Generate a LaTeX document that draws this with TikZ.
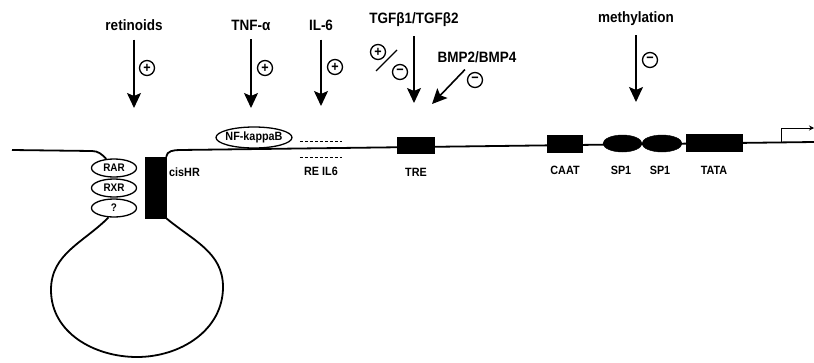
\documentclass[tikz,border=0pt]{standalone}
\usepackage{fontspec}
\setmainfont[FakeStretch=0.9]{Liberation Sans}
\usetikzlibrary{positioning,calc,arrows.meta,shapes.geometric}
\tikzset{
  dna/.style={line width=1.8pt},
  box/.style={rectangle,draw,fill=black,minimum height=16pt,inner sep=0},
  bead/.style={ellipse,draw,fill=black,minimum width=40pt,minimum height=17pt,inner sep=0},
  site/.style={ellipse,draw,line width=1.3pt,fill=white,minimum width=45pt,minimum height=18pt,inner sep=0,
               font=\fontsize{11}{11}\selectfont\bfseries},
  factor/.style={site,minimum width=76pt,minimum height=21pt,inner xsep=-2pt,font=\fontsize{12}{12}\selectfont\bfseries},
  sign/.style={circle,draw,line width=1.3pt,minimum size=15pt,inner sep=0,font=\fontsize{14}{14}\selectfont\bfseries},
  lab/.style={font=\fontsize{12}{12}\selectfont\bfseries,inner sep=1pt},
  toplab/.style={font=\fontsize{15}{15}\selectfont\bfseries,inner sep=1pt},
  act/.style={-{Stealth[length=15pt,width=14pt,inset=3pt]},line width=1.6pt,shorten <=8pt},
  start/.style={-{Stealth[length=5pt,width=5pt]},line width=1pt},
  gap/.style={line width=1pt,dash pattern=on 3pt off 2pt},
}

\begin{document}
\begin{tikzpicture}[x=1pt,y=1pt]
  \useasboundingbox (0,0) rectangle (814,-362);
  % receptors on the loop, cisHR block opposite
  \node[site] (rar) at (114,-168) {RAR};
  \node[site] (rxr) at (114,-188) {RXR};
  \node[site] (unk) at (114,-208) {?};
  \node[box,minimum width=21pt,minimum height=61pt] (cishr) at (155.5,-187.5) {};
  \node[lab,anchor=west] (cishrlab) at (168,-172) {cisHR};
  % the DNA: left arm, loop, then the promoter line
  \coordinate (left) at (12,-150);
  \coordinate (right) at (814,-142);
  \draw[dna] (left) -- (92,-151) to[out=0,in=135] (rar.130);
  \draw[dna] (unk.240) to[out=225,in=90] (51,-290) to[out=270,in=180] (137,-357)
    to[out=0,in=270] (223,-287) to[out=90,in=-40] (cishr.south east);
  \draw[dna] (cishr.north east) to[out=85,in=180] (180,-150) -- (right);
  % elements along the promoter
  \node[factor] (nfkb) at (254,-137.5) {NF-kappaB};
  \node[minimum width=42pt,minimum height=15pt,inner sep=0] (reil6) at (321,-149.5) {};
  \draw[gap] (reil6.north west) -- (reil6.north east);
  \draw[gap] (reil6.south west) -- (reil6.south east);
  \node[lab] (reil6lab) at (321,-171) {RE IL6};
  \node[box,minimum width=37pt] (tre) at (416,-145) {};
  \node[lab] (trelab) at (416,-172) {TRE};
  \node[box,minimum width=35pt,minimum height=17pt] (caat) at (565,-143.5) {};
  \node[lab] (caatlab) at (565,-170) {CAAT};
  \node[bead,minimum width=39pt] (spa) at (622.5,-143.5) {};
  \node[bead] (spb) at (662,-143.5) {};
  \node[lab] (spalab) at (621,-170) {SP1};
  \node[lab] (spblab) at (660,-170) {SP1};
  \node[box,minimum width=56pt,minimum height=17pt] (tata) at (714,-143) {};
  \node[lab] (tatalab) at (714,-170) {TATA};
  % transcription start
  \coordinate (tss) at (781,-142.5);
  \coordinate (tss-end) at (814,-128);
  \draw[start] (tss) |- (tss-end);
  % regulators
  \node[toplab] (ret) at (134,-25) {retinoids};
  \coordinate (ret-tip) at (134,-108);
  \draw[act] (ret) -- (ret-tip);
  \node[sign] (ret-sign) at (147,-68) {+};
  \node[toplab] (tnf) at (251,-25) {TNF-α};
  \coordinate (tnf-tip) at (251,-108);
  \draw[act] (tnf) -- (tnf-tip);
  \node[sign] (tnf-sign) at (265,-68) {+};
  \node[toplab] (il6) at (321,-25) {IL-6};
  \coordinate (il6-tip) at (321,-106);
  \draw[act] (il6) -- (il6-tip);
  \node[sign] (il6-sign) at (335,-67) {+};
  \node[toplab] (tgf) at (414,-20) {TGFβ1/TGFβ2};
  \coordinate (tgf-tip) at (414,-103);
  \draw[act] (tgf) -- (tgf-tip);
  \node[sign] (tgf-plus) at (378,-52) {+};
  \node[sign] (tgf-minus) at (400,-72) {−};
  \draw[line width=1.2pt] (376,-71) -- (397,-50);
  \node[toplab] (bmp) at (477,-57) {BMP2/BMP4};
  \coordinate (bmp-tip) at (432,-104);
  \draw[act] (bmp) -- (bmp-tip);
  \node[sign] (bmp-sign) at (475,-80) {−};
  \node[toplab] (meth) at (636,-19) {methylation};
  \coordinate (meth-tip) at (636,-102);
  \draw[act] (meth) -- (meth-tip);
  \node[sign] (meth-sign) at (650,-60) {−};
\end{tikzpicture}
\end{document}
